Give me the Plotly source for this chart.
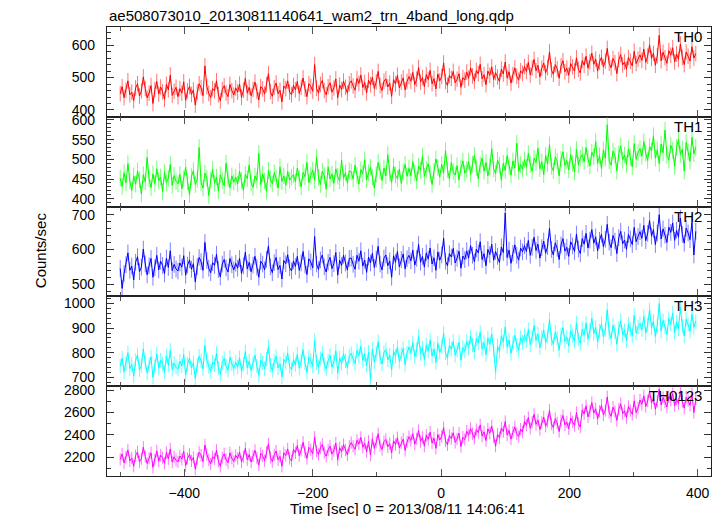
import numpy as np
import plotly.graph_objects as go
from plotly.subplots import make_subplots

TITLE = "ae508073010_20130811140641_wam2_trn_4band_long.qdp"
X_TITLE = "Time [sec] 0 = 2013/08/11 14:06:41"
Y_TITLE = "Counts/sec"
BIN_START = -500.0
BIN_WIDTH = 3.0

PANEL_NAMES = ["TH0", "TH1", "TH2", "TH3", "TH0123"]

TH0 = [
450, 472, 438, 461, 490, 447, 455, 429, 468, 481, 443, 459, 502, 466, 437, 452, 475, 420, 463, 488, 449, 471, 456, 433, 479, 462, 508, 445, 458, 470,
441, 466, 452, 487, 430, 459, 473, 448, 462, 415, 455, 481, 469, 444, 536, 472, 451, 438, 466, 459, 490, 447, 428, 463, 475, 452, 441, 479, 460, 446,
468, 455, 480, 439, 461, 497, 452, 470, 444, 463, 486, 458, 431, 472, 465, 449, 478, 512, 457, 442, 469, 483, 450, 461, 425, 474, 466, 490, 455, 447,
476, 462, 488, 451, 470, 499, 465, 441, 481, 473, 458, 540, 467, 452, 479, 491, 460, 447, 472, 484, 455, 468, 496, 438, 477, 463, 489, 470, 452, 481,
490, 474, 461, 497, 482, 508, 469, 485, 453, 492, 478, 501, 466, 487, 519, 475, 460, 489, 496, 471, 483, 442, 494, 480, 507, 468, 486, 499, 462, 488,
503, 489, 516, 478, 495, 531, 486, 500, 472, 509, 494, 522, 481, 497, 465, 511, 490, 503, 545, 488, 476, 506, 498, 519, 484, 495, 512, 470, 500, 492,
517, 498, 530, 505, 489, 522, 512, 541, 496, 509, 478, 520, 507, 533, 494, 515, 502, 488, 526, 511, 548, 499, 518, 483, 509, 530, 504, 492, 521, 513,
534, 519, 547, 508, 530, 556, 521, 538, 502, 529, 545, 515, 531, 579, 524, 510, 540, 527, 498, 536, 552, 518, 529, 507, 543, 533, 520, 561, 525, 514,
552, 538, 566, 529, 549, 575, 541, 557, 520, 548, 563, 533, 551, 590, 544, 530, 559, 546, 512, 555, 571, 539, 548, 526, 562, 550, 536, 581, 543, 557,
570, 553, 588, 547, 566, 601, 559, 575, 538, 567, 630, 552, 578, 561, 544, 583, 569, 592, 548, 573, 556, 604, 562, 540, 579, 566, 551, 595, 560, 574,
]

TH1 = [
452, 431, 466, 440, 489, 445, 421, 458, 437, 470, 448, 412, 461, 443, 505, 450, 428, 463, 439, 476, 446, 455, 418, 467, 441, 452, 487, 434, 459, 444,
438, 462, 425, 451, 480, 443, 410, 456, 471, 436, 449, 530, 441, 427, 465, 452, 408, 447, 474, 439, 455, 420, 461, 446, 433, 490, 450, 428, 458, 442,
455, 437, 470, 446, 421, 462, 451, 486, 440, 429, 458, 447, 515, 436, 463, 445, 419, 472, 450, 438, 466, 452, 427, 481, 444, 458, 434, 469, 447, 455,
461, 443, 478, 452, 430, 467, 456, 492, 441, 459, 473, 447, 505, 454, 436, 470, 458, 424, 481, 450, 463, 439, 476, 457, 445, 498, 452, 466, 440, 471,
468, 450, 485, 459, 437, 474, 463, 499, 448, 466, 480, 455, 427, 461, 492, 470, 446, 478, 458, 512, 465, 441, 483, 460, 451, 475, 439, 469, 487, 457,
477, 458, 494, 466, 446, 483, 472, 508, 457, 475, 489, 463, 436, 470, 501, 479, 455, 487, 466, 522, 474, 450, 492, 469, 460, 484, 448, 478, 496, 465,
474, 495, 462, 488, 510, 479, 451, 486, 503, 470, 492, 458, 481, 527, 476, 464, 498, 485, 447, 490, 472, 509, 483, 460, 496, 478, 541, 469, 487, 475,
499, 480, 515, 487, 470, 503, 492, 528, 476, 494, 461, 510, 489, 537, 482, 471, 506, 495, 458, 500, 519, 484, 497, 473, 512, 490, 468, 525, 486, 503,
512, 494, 530, 501, 483, 518, 507, 545, 490, 509, 476, 524, 503, 588, 496, 485, 521, 510, 470, 515, 534, 498, 511, 487, 527, 504, 481, 540, 500, 517,
527, 508, 545, 515, 497, 533, 521, 560, 503, 524, 489, 539, 517, 574, 510, 498, 536, 523, 482, 530, 551, 512, 526, 470, 543, 519, 495, 556, 514, 531,
]

TH2 = [
545, 488, 531, 556, 590, 540, 552, 512, 563, 579, 536, 549, 601, 558, 527, 553, 574, 520, 547, 583, 541, 566, 554, 530, 575, 548, 596, 539, 557, 544,
538, 561, 549, 582, 526, 555, 570, 543, 559, 507, 551, 577, 565, 540, 620, 568, 546, 533, 562, 554, 586, 542, 521, 558, 571, 547, 535, 574, 556, 541,
560, 546, 574, 531, 553, 592, 544, 563, 536, 555, 580, 549, 520, 566, 558, 541, 571, 610, 550, 533, 562, 577, 542, 554, 515, 568, 559, 585, 547, 538,
567, 551, 580, 540, 561, 594, 555, 528, 573, 564, 547, 637, 558, 542, 570, 584, 550, 535, 563, 577, 545, 559, 591, 526, 569, 554, 583, 561, 541, 574,
575, 557, 543, 583, 566, 596, 552, 569, 534, 578, 561, 589, 548, 572, 609, 558, 541, 575, 584, 553, 567, 520, 582, 563, 594, 550, 571, 587, 544, 573,
583, 567, 598, 555, 574, 614, 563, 580, 549, 590, 572, 604, 558, 576, 540, 593, 569, 584, 632, 566, 553, 588, 578, 603, 561, 575, 595, 546, 581, 571,
596, 575, 611, 583, 564, 601, 590, 622, 571, 588, 553, 600, 585, 615, 569, 594, 580, 562, 607, 591, 705, 577, 598, 560, 589, 613, 583, 569, 604, 593,
611, 594, 626, 583, 606, 635, 597, 615, 575, 605, 624, 589, 608, 661, 600, 584, 619, 603, 571, 613, 631, 595, 606, 580, 622, 610, 594, 644, 601, 588,
631, 615, 646, 604, 627, 657, 618, 636, 596, 626, 644, 608, 629, 672, 621, 605, 640, 624, 588, 634, 652, 616, 627, 600, 643, 630, 614, 663, 622, 637,
651, 632, 669, 625, 646, 683, 638, 657, 614, 647, 700, 630, 659, 641, 620, 664, 649, 676, 626, 655, 635, 690, 643, 618, 661, 647, 628, 678, 584, 652,
]

TH3 = [
745, 778, 722, 756, 800, 735, 752, 705, 769, 791, 730, 748, 815, 760, 718, 751, 783, 700, 744, 796, 737, 770, 755, 721, 787, 749, 810, 732, 758, 741,
733, 765, 747, 792, 710, 753, 778, 738, 759, 695, 750, 786, 768, 734, 830, 771, 744, 725, 762, 751, 797, 737, 712, 757, 777, 745, 729, 781, 755, 736,
761, 742, 780, 725, 754, 805, 739, 766, 728, 757, 790, 746, 708, 770, 759, 735, 775, 825, 750, 727, 764, 785, 738, 756, 702, 772, 760, 798, 744, 731,
772, 751, 794, 737, 766, 812, 758, 720, 783, 769, 745, 850, 761, 741, 777, 798, 753, 733, 768, 789, 742, 764, 808, 718, 779, 756, 797, 766, 739, 786,
797, 775, 756, 809, 788, 826, 769, 794, 748, 803, 690, 815, 762, 798, 845, 780, 755, 801, 813, 771, 790, 730, 806, 786, 824, 764, 795, 817, 752, 799,
823, 800, 841, 784, 812, 866, 797, 819, 773, 832, 806, 851, 787, 816, 760, 838, 802, 825, 880, 799, 778, 830, 814, 847, 790, 811, 842, 770, 821, 808,
846, 820, 866, 831, 803, 857, 839, 884, 815, 842, 792, 860, 834, 876, 812, 720, 827, 805, 869, 845, 905, 824, 852, 797, 838, 872, 831, 810, 862, 843,
870, 848, 894, 832, 865, 910, 851, 876, 820, 863, 892, 841, 868, 935, 857, 833, 884, 860, 810, 873, 902, 846, 864, 828, 889, 869, 847, 921, 855, 838,
896, 871, 920, 856, 890, 940, 878, 903, 843, 889, 918, 865, 893, 975, 882, 858, 912, 886, 835, 899, 930, 872, 891, 850, 916, 895, 869, 952, 880, 905,
919, 893, 948, 880, 914, 975, 901, 928, 866, 913, 1000, 888, 931, 905, 874, 939, 916, 962, 882, 924, 897, 985, 909, 868, 936, 914, 887, 958, 903, 927,
]

TH0123 = [
2182, 2230, 2150, 2201, 2265, 2168, 2194, 2120, 2215, 2248, 2160, 2188, 2290, 2207, 2145, 2193, 2240, 2110, 2178, 2258, 2166, 2219, 2197, 2148, 2243, 2186, 2275, 2158, 2205, 2172,
2160, 2212, 2183, 2255, 2125, 2190, 2228, 2168, 2199, 2095, 2185, 2246, 2220, 2162, 2310, 2225, 2177, 2140, 2206, 2186, 2263, 2165, 2120, 2196, 2232, 2178, 2150, 2240, 2192, 2163,
2218, 2190, 2246, 2160, 2206, 2280, 2178, 2225, 2158, 2211, 2262, 2196, 2130, 2236, 2214, 2170, 2243, 2320, 2200, 2162, 2222, 2256, 2176, 2208, 2120, 2240, 2216, 2275, 2189, 2168,
2272, 2240, 2306, 2215, 2262, 2335, 2248, 2190, 2290, 2268, 2232, 2380, 2255, 2225, 2284, 2316, 2244, 2210, 2266, 2300, 2228, 2260, 2328, 2180, 2286, 2250, 2314, 2265, 2222, 2298,
2332, 2298, 2272, 2352, 2318, 2378, 2290, 2326, 2250, 2344, 2220, 2366, 2280, 2335, 2410, 2305, 2270, 2340, 2360, 2294, 2322, 2240, 2348, 2314, 2375, 2284, 2330, 2362, 2262, 2338,
2384, 2350, 2412, 2318, 2366, 2440, 2342, 2378, 2300, 2398, 2360, 2425, 2328, 2372, 2280, 2404, 2355, 2386, 2465, 2346, 2312, 2394, 2368, 2420, 2334, 2364, 2416, 2296, 2380, 2358,
2434, 2398, 2458, 2412, 2370, 2448, 2422, 2490, 2390, 2428, 2350, 2454, 2416, 2480, 2384, 2300, 2406, 2375, 2462, 2430, 2520, 2400, 2440, 2362, 2424, 2472, 2410, 2386, 2452, 2426,
2522, 2486, 2556, 2460, 2514, 2585, 2494, 2532, 2448, 2512, 2560, 2478, 2520, 2620, 2500, 2466, 2546, 2508, 2430, 2528, 2574, 2490, 2516, 2455, 2552, 2518, 2484, 2600, 2502, 2470,
2624, 2588, 2660, 2562, 2614, 2690, 2596, 2634, 2545, 2612, 2666, 2578, 2620, 2740, 2602, 2566, 2648, 2608, 2530, 2630, 2680, 2590, 2616, 2555, 2655, 2618, 2584, 2705, 2600, 2640,
2712, 2675, 2750, 2655, 2704, 2790, 2686, 2728, 2630, 2702, 2810, 2668, 2735, 2694, 2650, 2742, 2710, 2770, 2662, 2722, 2680, 2795, 2698, 2640, 2738, 2706, 2665, 2768, 2600, 2720,
]

# statistical error (counts/sec) per band
ERRORS = [24, 21, 24, 29, 55]

SERIES = [TH0, TH1, TH2, TH3, TH0123]
COLORS = ["#ff0000", "#00ff00", "#0000ff", "#00ffff", "#ff00ff"]
ERR_COLORS = ["rgba(255,0,0,0.55)", "rgba(0,255,0,0.55)", "rgba(0,0,255,0.5)",
              "rgba(0,255,255,0.6)", "rgba(255,0,255,0.55)"]
Y_RANGES = [[379, 656], [380, 608], [465, 723], [664, 1029], [2033, 2836]]
Y_DTICK = [100, 50, 100, 100, 200]
Y_MINOR = [20, 10, 20, 20, 100]
X_RANGE = [-520.6, 420.7]

FONT = "Liberation Sans, Arial, Helvetica, sans-serif"

fig = make_subplots(rows=5, cols=1, shared_xaxes=True, vertical_spacing=0)

for i, vals in enumerate(SERIES):
    t = BIN_START + BIN_WIDTH * np.arange(len(vals))
    fig.add_trace(go.Scatter(
        x=t, y=vals, mode="markers",
        marker=dict(size=0.1, opacity=0, color=COLORS[i]),
        error_y=dict(type="constant", value=ERRORS[i], color=ERR_COLORS[i],
                     thickness=1, width=0),
        hoverinfo="skip", showlegend=False), row=i + 1, col=1)
    fig.add_trace(go.Scatter(
        x=t, y=vals, mode="lines",
        line=dict(color=COLORS[i], width=1),
        showlegend=False), row=i + 1, col=1)

for i in range(5):
    fig.update_yaxes(
        range=Y_RANGES[i], dtick=Y_DTICK[i], tick0=0,
        ticks="inside", ticklen=7, tickwidth=1, tickcolor="#333",
        minor=dict(dtick=Y_MINOR[i], tick0=0, ticks="inside", ticklen=4,
                   tickcolor="#333", tickwidth=1, showgrid=False),
        showline=True, linecolor="#222", linewidth=1.2, mirror="ticks",
        showgrid=False, zeroline=False,
        tickfont=dict(family=FONT, size=14, color="black"),
        ticklabelstandoff=8,
        row=i + 1, col=1)
    fig.update_xaxes(
        range=X_RANGE, dtick=200, tick0=0,
        ticks="inside", ticklen=7, tickwidth=1, tickcolor="#555",
        minor=dict(dtick=100, tick0=0, ticks="inside", ticklen=4,
                   tickcolor="#555", tickwidth=1, showgrid=False),
        showline=True, linecolor="#222", linewidth=1.2, mirror="ticks",
        showgrid=False, zeroline=False,
        showticklabels=(i == 4),
        tickfont=dict(family=FONT, size=14, color="black"),
        ticklabelstandoff=4,
        row=i + 1, col=1)

annotations = []
for i, name in enumerate(PANEL_NAMES):
    ax = "" if i == 0 else str(i + 1)
    annotations.append(dict(
        text=name, xref=f"x{ax} domain", yref=f"y{ax} domain",
        x=1, y=1, xanchor="right", yanchor="top", xshift=-7, yshift=1,
        showarrow=False, font=dict(family=FONT, size=15, color="black")))

annotations.append(dict(text=TITLE, xref="paper", yref="paper", x=0, y=1,
                        xanchor="left", yanchor="bottom", yshift=1, showarrow=False,
                        font=dict(family=FONT, size=15, color="black")))
annotations.append(dict(text=Y_TITLE, xref="paper", yref="paper", x=0, y=0.503,
                        xanchor="center", yanchor="middle", xshift=-67, textangle=-90,
                        showarrow=False, font=dict(family=FONT, size=15, color="black")))
annotations.append(dict(text=X_TITLE, xref="paper", yref="paper", x=0.498, y=0,
                        xanchor="center", yanchor="middle", yshift=-32,
                        showarrow=False, font=dict(family=FONT, size=15, color="black")))

fig.update_layout(
    width=724, height=516,
    margin=dict(l=107, r=13, t=27, b=40),
    paper_bgcolor="white", plot_bgcolor="white",
    annotations=annotations,
    font=dict(family=FONT, color="black"),
)

fig.write_html("out.html", config={"displayModeBar": False})
with open("out.html", "r", encoding="utf-8") as f:
    html = f.read()
html = html.replace("<head>", "<head><style>html,body{margin:0;padding:0;overflow:hidden;}</style>", 1)
with open("out.html", "w", encoding="utf-8") as f:
    f.write(html)
